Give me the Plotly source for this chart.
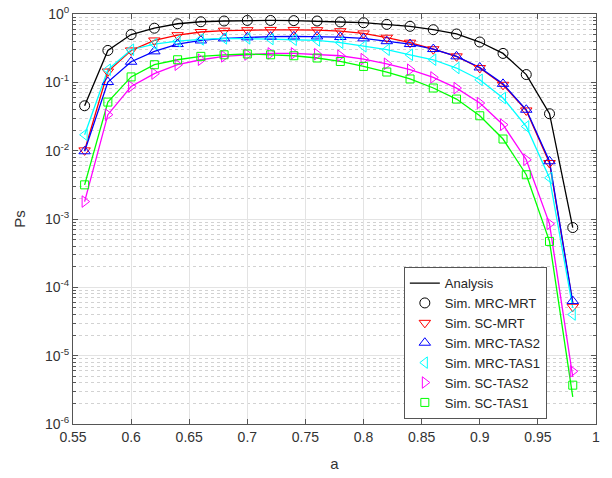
import plotly.graph_objects as go

# Roll-off factor a
a = [0.56, 0.58, 0.60, 0.62, 0.64, 0.66, 0.68, 0.70, 0.72, 0.74, 0.76,
     0.78, 0.80, 0.82, 0.84, 0.86, 0.88, 0.90, 0.92, 0.94, 0.96, 0.98]

# Simulated success probability
sim_mrc_mrt = [0.0454, 0.293, 0.50, 0.62, 0.72, 0.77, 0.79, 0.805, 0.805, 0.80, 0.79,
               0.764, 0.746, 0.705, 0.66, 0.589, 0.51, 0.389, 0.265, 0.13, 0.0347, 7.5e-4]
sim_sc_mrt = [0.0101, 0.144, 0.293, 0.41, 0.49, 0.545, 0.57, 0.58, 0.585, 0.585, 0.58,
              0.56, 0.52, 0.45, 0.38, 0.305, 0.24, 0.162, 0.092, 0.0388, 0.0066, 5.2e-5]
sim_mrc_tas2 = [0.0098, 0.101, 0.20, 0.284, 0.363, 0.41, 0.44, 0.455, 0.466, 0.47, 0.47,
                0.46, 0.44, 0.40, 0.363, 0.307, 0.24, 0.165, 0.095, 0.0397, 0.0070, 6.3e-5]
sim_mrc_tas1 = [0.0171, 0.153, 0.30, 0.363, 0.40, 0.425, 0.44, 0.44, 0.43, 0.42, 0.41,
                0.38, 0.336, 0.30, 0.253, 0.214, 0.162, 0.109, 0.059, 0.0226, 0.0040, 4.0e-5]
sim_sc_tas2 = [0.0018, 0.0336, 0.087, 0.134, 0.181, 0.214, 0.24, 0.255, 0.265, 0.265, 0.258,
               0.245, 0.219, 0.187, 0.153, 0.118, 0.0824, 0.0498, 0.024, 0.00736, 8.5e-4, 5.9e-6]
sim_sc_tas1 = [0.00316, 0.0514, 0.12, 0.181, 0.214, 0.24, 0.253, 0.26, 0.253, 0.245, 0.227,
               0.202, 0.171, 0.1415, 0.112, 0.0826, 0.0569, 0.0324, 0.0148, 0.00444, 4.7e-4, 3.7e-6]

# Analytical success probability
ana_mrc_mrt = [0.0454, 0.293, 0.50, 0.62, 0.72, 0.77, 0.79, 0.805, 0.805, 0.80, 0.79,
               0.764, 0.746, 0.705, 0.66, 0.589, 0.51, 0.389, 0.265, 0.13, 0.0347, 7.5e-4]
ana_sc_mrt = [0.0101, 0.144, 0.293, 0.41, 0.49, 0.545, 0.57, 0.58, 0.585, 0.585, 0.58,
              0.56, 0.52, 0.45, 0.38, 0.305, 0.24, 0.162, 0.092, 0.0388, 0.0066, 5.9e-5]
ana_mrc_tas2 = [0.0098, 0.101, 0.20, 0.284, 0.363, 0.41, 0.44, 0.455, 0.466, 0.47, 0.47,
                0.46, 0.44, 0.40, 0.363, 0.307, 0.24, 0.165, 0.095, 0.0397, 0.0070, 6.0e-5]
ana_mrc_tas1 = [0.0171, 0.153, 0.30, 0.363, 0.40, 0.425, 0.44, 0.44, 0.43, 0.42, 0.41,
                0.38, 0.336, 0.30, 0.253, 0.214, 0.162, 0.109, 0.059, 0.0226, 0.0040, 5.0e-5]
ana_sc_tas2 = [0.0018, 0.0336, 0.087, 0.134, 0.181, 0.214, 0.24, 0.255, 0.265, 0.265, 0.258,
               0.245, 0.219, 0.187, 0.153, 0.118, 0.0824, 0.0498, 0.024, 0.00736, 8.5e-4, 4.9e-6]
ana_sc_tas1 = [0.00316, 0.0514, 0.12, 0.181, 0.214, 0.24, 0.253, 0.26, 0.253, 0.245, 0.227,
               0.202, 0.171, 0.1415, 0.112, 0.0826, 0.0569, 0.0324, 0.0148, 0.00444, 4.7e-4, 2.5e-6]

# Axis ticks
x_ticks = [0.55, 0.6, 0.65, 0.7, 0.75, 0.8, 0.85, 0.9, 0.95, 1.0]
x_labels = ["0.55", "0.6", "0.65", "0.7", "0.75", "0.8", "0.85", "0.9", "0.95", "1"]
y_exps = [-6, -5, -4, -3, -2, -1, 0]

series = [
    ("Sim. MRC-MRT", sim_mrc_mrt, ana_mrc_mrt, "#000000", "circle-open"),
    ("Sim. SC-MRT", sim_sc_mrt, ana_sc_mrt, "#ff0000", "triangle-down-open"),
    ("Sim. MRC-TAS2", sim_mrc_tas2, ana_mrc_tas2, "#0000ff", "triangle-up-open"),
    ("Sim. MRC-TAS1", sim_mrc_tas1, ana_mrc_tas1, "#00ffff", "triangle-left-open"),
    ("Sim. SC-TAS2", sim_sc_tas2, ana_sc_tas2, "#ff00ff", "triangle-right-open"),
    ("Sim. SC-TAS1", sim_sc_tas1, ana_sc_tas1, "#00ff00", "square-open"),
]

FONT = "Liberation Sans, Arial, sans-serif"
TEXT_COLOR = "#333333"

fig = go.Figure()

# Analysis curves (one legend entry for all of them)
for i, (name, sim, ana, color, symbol) in enumerate(series):
    fig.add_trace(go.Scatter(
        x=a, y=ana, mode="lines", name="Analysis",
        line=dict(color=color, width=1.3),
        showlegend=(i == 0), legendrank=1,
    ))

# Simulation markers
for k, (name, sim, ana, color, symbol) in enumerate(series):
    fig.add_trace(go.Scatter(
        x=a, y=sim, mode="markers", name=name,
        marker=dict(symbol=symbol, size=10 if "square" not in symbol else 8,
                    color=color, line=dict(color=color, width=1)),
        legendrank=2 + k,
    ))

minor_vals = [m * 10.0 ** e for e in y_exps[:-1] for m in range(2, 10)]

axis_common = dict(
    showline=True, linecolor="#555555", linewidth=1, mirror="allticks",
    ticks="inside", ticklen=5, tickcolor="#555555",
    showgrid=True, gridcolor="#e3e3e3", gridwidth=1,
    zeroline=False, automargin=False,
    tickfont=dict(family=FONT, size=14, color=TEXT_COLOR),
)

fig.update_xaxes(
    range=[0.55, 1.0], tickmode="array", tickvals=x_ticks, ticktext=x_labels,
    title=dict(text="a", font=dict(family=FONT, size=15, color=TEXT_COLOR), standoff=14),
    **axis_common,
)
fig.update_yaxes(
    type="log", range=[-6, 0], tickmode="array",
    tickvals=[10.0 ** e for e in y_exps],
    ticktext=["10<sup>%d</sup>" % e for e in y_exps],
    minor=dict(tickmode="array", tickvals=minor_vals, ticks="inside", ticklen=3,
               tickcolor="#555555", showgrid=True, gridcolor="#d2d2d2",
               griddash="dot", gridwidth=1),
    title=dict(text="Ps", font=dict(family=FONT, size=15, color=TEXT_COLOR), standoff=15),
    **axis_common,
)

fig.update_layout(
    width=612, height=478,
    margin=dict(l=73, r=16, t=14, b=54),
    paper_bgcolor="white", plot_bgcolor="white",
    legend=dict(
        x=0.906, xanchor="right", y=0.012, yanchor="bottom",
        bgcolor="white", bordercolor="#555555", borderwidth=1,
        font=dict(family=FONT, size=13, color="#262626"),
        traceorder="normal", tracegroupgap=0, itemwidth=30,
        entrywidth=124,
    ),
)

fig.write_html("out.html")
